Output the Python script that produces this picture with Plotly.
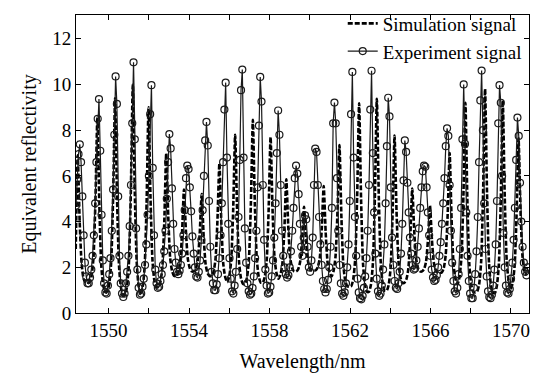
import plotly.graph_objects as go

# ---- data ----
# Experiment signal: evenly sampled wavelength grid (start, step) and values
exp_start = 1548.38
exp_step = 0.0636
exp_values = [
    4.7, 5.85, 6.95, 7.38, 6.6, 5.1, 3.4, 2.2, 1.6, 1.3,
    1.3, 1.55, 1.9, 2.5, 3.4, 4.8, 6.6, 8.5, 9.36, 7.1,
    4.3, 2.3, 1.3, 0.9, 0.85, 1.2, 1.7, 2.4, 3.6, 5.4,
    7.8, 10.35, 9.15, 5.1, 2.5, 1.3, 0.85, 0.7, 0.85, 1.3,
    1.8, 2.5, 3.8, 5.6, 8.3, 10.97, 7.6, 3.7, 1.9, 1.1,
    0.8, 0.85, 1.15, 1.5, 2.1, 3.0, 4.3, 6.0, 8.7, 9.97,
    6.35, 3.4, 1.9, 1.3, 1.1, 1.15, 1.4, 1.7, 2.1, 2.7,
    3.6, 5.0, 6.6, 7.83, 7.2, 5.45, 3.9, 2.8, 2.2, 1.8,
    1.7, 1.85, 2.1, 2.6, 3.4, 4.5, 5.9, 6.45, 6.3, 5.5,
    4.45, 3.35, 2.6, 2.0, 1.6, 1.55, 1.8, 2.3, 3.2, 4.5,
    6.0, 7.55, 8.36, 7.33, 4.9, 2.9, 1.8, 1.3, 1.0, 1.0,
    1.25, 1.7, 2.4, 3.4, 4.8, 6.6, 8.9, 10.08, 6.8, 3.9,
    2.4, 1.5, 0.95, 0.85, 1.2, 1.8, 2.8, 4.2, 6.7, 9.75,
    10.65, 6.8, 3.7, 2.2, 1.3, 0.95, 0.8, 0.85, 1.1, 1.6,
    2.4, 3.6, 5.5, 8.2, 10.33, 9.25, 5.6, 3.2, 1.9, 1.2,
    0.85, 0.9, 1.15, 1.6, 2.3, 3.3, 4.8, 7.0, 8.86, 7.8,
    5.6, 3.6, 2.5, 2.0, 1.7, 1.55, 1.65, 2.0, 2.7, 3.6,
    4.6, 5.9, 6.45, 6.1, 5.2, 3.9, 2.9, 2.5, 3.3, 4.27,
    4.1, 2.9, 2.0, 1.8, 2.3, 3.3, 5.6, 7.19, 7.05, 5.6,
    4.2, 3.0, 2.1, 1.4, 1.05, 0.9, 1.05, 1.45, 2.0, 2.9,
    4.6, 8.3, 9.21, 8.3, 5.9, 3.6, 2.1, 1.3, 0.85, 0.75,
    0.9, 1.3, 2.0, 3.0, 4.9, 8.7, 10.55, 6.8, 4.2, 2.5,
    1.5, 0.9, 0.65, 0.6, 0.75, 1.1, 1.6, 2.4, 3.6, 5.6,
    8.9, 10.6, 7.0, 4.4, 2.6, 1.5, 0.95, 0.75, 0.85, 1.2,
    1.9, 3.0, 4.8, 7.3, 9.42, 8.6, 5.5, 3.3, 2.1, 1.4,
    1.1, 1.05, 1.3, 1.8, 2.6, 3.9, 5.8, 7.55, 7.05, 5.7,
    4.4, 3.3, 2.6, 2.1, 1.9, 1.95, 2.3, 2.9, 3.7, 4.6,
    5.5, 6.2, 6.45, 6.4, 5.5, 4.4, 3.4, 2.5, 1.9, 1.55,
    1.4, 1.45, 1.65, 2.0, 2.5, 3.1, 3.9, 4.8, 5.9, 7.3,
    8.08, 7.75, 5.6, 3.6, 2.2, 1.4, 0.95, 0.85, 1.1, 1.7,
    2.8, 4.6, 7.6, 10.0, 7.4, 4.4, 2.5, 1.4, 0.85, 0.65,
    0.65, 1.1, 1.7, 2.7, 4.2, 6.6, 9.3, 10.61, 8.0, 4.8,
    2.8, 1.6, 0.95, 0.7, 0.65, 0.8, 1.2, 1.9, 3.0, 4.9,
    8.3, 9.97, 9.2, 6.0, 3.5, 2.0, 1.2, 0.9, 0.85, 1.05,
    1.5, 2.2, 3.2, 4.6, 6.7, 8.55, 7.75, 5.7, 4.0, 2.9,
    2.2, 1.8, 1.65, 2.0,
]

# Simulation signal: evenly sampled wavelength grid (start, step) and values
sim_start = 1548.37
sim_step = 0.0978
sim_values = [
    2.8, 6.9, 4.0, 2.15, 1.5, 1.33, 1.3, 1.35, 1.6, 2.4,
    4.9, 8.6, 4.7, 2.05, 1.2, 0.92, 0.95, 1.25, 2.2, 5.1,
    9.4, 5.0, 2.05, 1.1, 0.78, 0.8, 1.12, 2.15, 5.3, 10.0,
    5.3, 2.2, 1.15, 0.8, 1.13, 2.0, 4.8, 9.0, 5.0, 2.3,
    1.4, 1.12, 1.15, 1.35, 2.0, 4.0, 7.0, 4.25, 2.4, 1.82,
    1.62, 1.62, 1.75, 2.17, 3.46, 5.4, 3.56, 2.34, 1.95, 1.82,
    1.82, 1.94, 2.31, 3.47, 5.2, 3.36, 2.14, 1.74, 1.62, 1.62,
    1.8, 2.34, 4.03, 6.55, 3.9, 2.13, 1.56, 1.35, 1.6, 2.32,
    4.5, 7.8, 4.45, 2.23, 1.51, 1.27, 1.28, 1.54, 2.33, 4.78,
    8.45, 4.8, 2.37, 1.59, 1.33, 1.33, 1.56, 2.26, 4.44, 7.7,
    4.54, 2.43, 1.75, 1.5, 1.67, 2.15, 3.63, 5.85, 3.78, 2.4,
    1.96, 1.82, 1.82, 1.91, 2.23, 3.2, 4.65, 3.22, 2.27, 1.96,
    1.87, 1.85, 1.87, 2.0, 2.4, 3.66, 5.55, 3.54, 2.19, 1.76,
    1.6, 1.83, 2.46, 4.42, 7.35, 4.19, 2.08, 1.4, 1.17, 1.15,
    1.18, 1.47, 2.35, 5.08, 9.18, 4.96, 2.14, 1.23, 0.93, 0.93,
    1.24, 2.17, 5.05, 9.37, 5.08, 2.21, 1.29, 0.98, 0.98, 1.22,
    1.97, 4.29, 7.76, 4.47, 2.27, 1.56, 1.32, 1.32, 1.47, 1.92,
    3.33, 5.45, 3.59, 2.35, 1.95, 1.82, 1.82, 1.92, 2.24, 3.22,
    4.7, 3.2, 2.19, 1.87, 1.77, 1.75, 1.77, 1.96, 2.54, 4.32,
    7.0, 4.07, 2.11, 1.48, 1.25, 1.57, 2.44, 5.15, 9.2, 4.97,
    2.15, 1.23, 0.93, 0.9, 0.94, 1.26, 2.24, 5.26, 9.8, 5.24,
    2.19, 1.21, 0.88, 0.88, 1.19, 2.12, 4.99, 9.3, 5.09, 2.29,
    1.38, 1.05, 1.31, 2.04, 4.28, 7.65, 4.56, 2.51, 1.84, 1.65,
]

x_tickvals = [1550, 1552, 1554, 1556, 1558, 1560, 1562, 1564, 1566, 1568, 1570]
x_ticktext = ["1550", "", "1554", "", "1558", "", "1562", "", "1566", "", "1570"]
y_tickvals = [0, 2, 4, 6, 8, 10, 12]
x_range = [1548.383, 1570.896]
y_range = [0, 13.04]

exp_wl = [exp_start + i * exp_step for i in range(len(exp_values))]
sim_wl = [sim_start + i * sim_step for i in range(len(sim_values))]

FONT = "Liberation Serif, Times New Roman, serif"

fig = go.Figure()
fig.add_trace(go.Scatter(
    x=sim_wl, y=sim_values, mode="lines", name="Simulation signal",
    line=dict(color="black", width=2.6, dash="5px,2px", shape="spline", smoothing=0.6),
))
fig.add_trace(go.Scatter(
    x=exp_wl, y=exp_values, mode="lines+markers", name="Experiment signal",
    line=dict(color="#1a1a1a", width=1.2),
    marker=dict(symbol="circle-open", size=7, color="#1a1a1a", line=dict(width=1.2)),
))

axis_common = dict(
    showline=True, linecolor="black", linewidth=1, mirror="ticks",
    ticks="inside", ticklen=5, tickcolor="black", tickwidth=1,
    showgrid=False, zeroline=False,
    tickfont=dict(family=FONT, size=19, color="black"),
)

fig.update_layout(
    width=534, height=376,
    margin=dict(l=76, r=5, t=8, b=63),
    paper_bgcolor="white", plot_bgcolor="white",
    font=dict(family=FONT, color="black"),
    showlegend=True,
    legend=dict(
        x=0.995, xanchor="right", y=1.035, yanchor="top",
        bgcolor="rgba(0,0,0,0)", font=dict(family=FONT, size=19, color="black"),
        tracegroupgap=0,
    ),
    xaxis=dict(range=x_range, tickvals=x_tickvals, ticktext=x_ticktext,
               title=dict(text="Wavelength/nm", font=dict(family=FONT, size=20), standoff=14),
               **axis_common),
    yaxis=dict(range=y_range, tickvals=y_tickvals,
               title=dict(text="Equivalent reflectivity", font=dict(family=FONT, size=20), standoff=10),
               **axis_common),
)

fig.write_html("out.html")
